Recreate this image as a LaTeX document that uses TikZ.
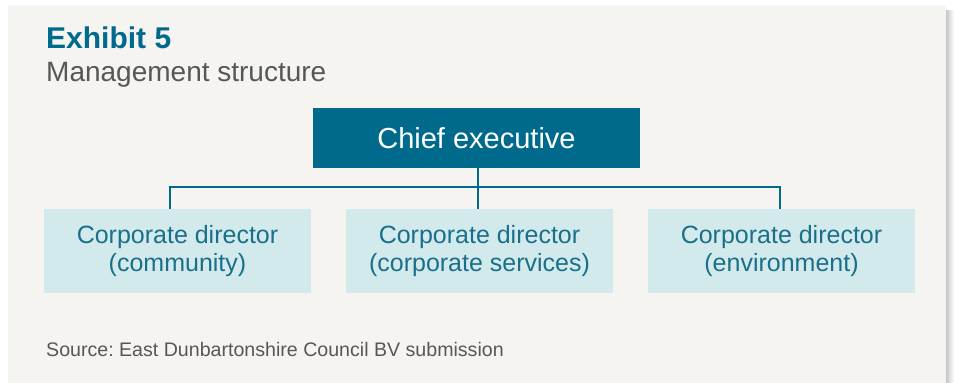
\documentclass[tikz,border=0pt]{standalone}
\usepackage{fontspec}
\setmainfont{Liberation Sans}
\frenchspacing
\definecolor{panel}{HTML}{F5F4F1}
\definecolor{teal}{HTML}{006A8C}
\definecolor{lightbox}{HTML}{D3EAED}
\definecolor{childtext}{HTML}{1A6F8A}
\definecolor{graytext}{HTML}{575757}
\begin{document}
\begin{tikzpicture}[x=1pt,y=-1pt,
  chiefbox/.style={fill=teal, draw=none, text=white, inner sep=0pt,
    minimum width=327pt, minimum height=60pt, font=\fontsize{29}{34}\selectfont},
  childbox/.style={fill=lightbox, draw=none, text=childtext, inner sep=0pt, align=center,
    minimum width=267pt, minimum height=84pt, font=\fontsize{25}{28}\selectfont},
  link/.style={draw=teal, line width=2.3pt},
  lbl/.style={anchor=base west, inner sep=0pt}]
\useasboundingbox (0,0) rectangle (954,383);
\fill[white] (0,0) rectangle (954,383);
% shadow
\shade[left color=black!25, right color=white] (945,10) rectangle (954,383);
\fill[black!4] (8,5) rectangle (946,383);
\fill[panel] (10,7) rectangle (945,383);
% titles
\node[lbl, text=teal, font=\fontsize{30}{36}\selectfont\bfseries] (title) at (46,48.3) {Exhibit 5};
\node[lbl, text=graytext, font=\fontsize{28}{32}\selectfont] (sub) at (46,81) {Management structure};
% boxes
\node[chiefbox] (chief) at (476.5,138) {Chief executive};
\node[childbox] (c1) at (177.5,251) {Corporate director\\(community)};
\node[childbox] (c2) at (479.5,251) {Corporate director\\(corporate services)};
\node[childbox] (c3) at (781.5,251) {Corporate director\\(environment)};
% connectors
\coordinate (bus) at (478,186.7);
\draw[link] (chief.south -| bus) -- (bus);
\draw[link] (c1.north -| 170,0) -- (170,186.7) -- (780,186.7) -- (c3.north -| 780,0);
\draw[link] (bus) -- (c2.north -| bus);
% source
\node[lbl, text=graytext, font=\fontsize{19.6}{24}\selectfont] (src) at (46,356.5) {Source: East Dunbartonshire Council BV submission};
\end{tikzpicture}
\end{document}
